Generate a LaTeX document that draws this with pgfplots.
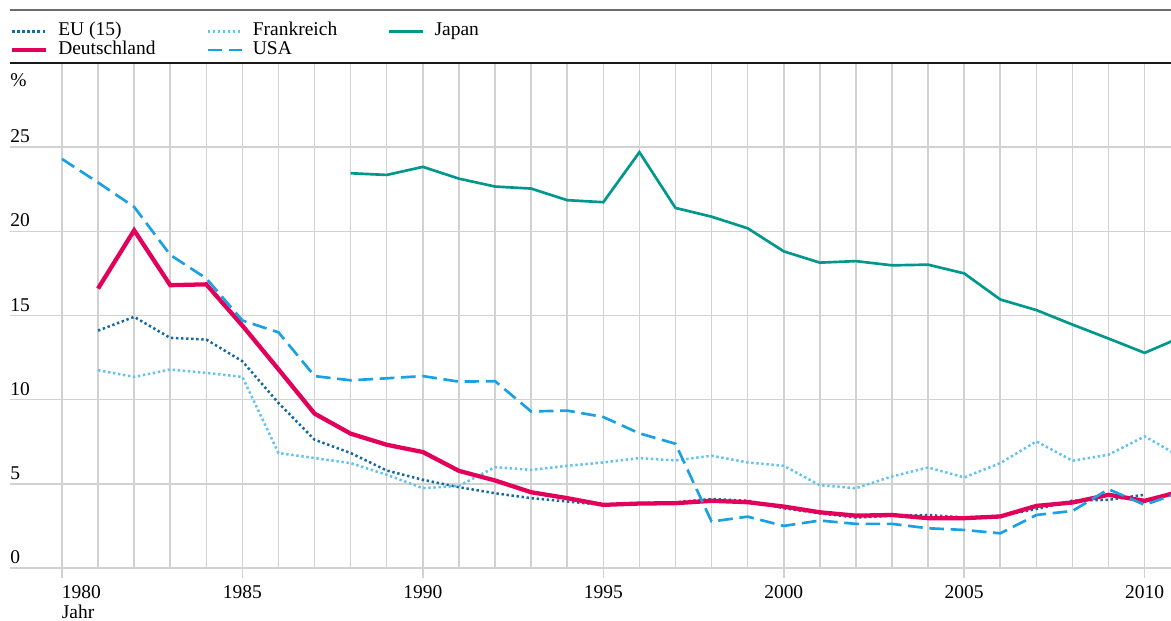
\documentclass[border=0pt]{standalone}
\usepackage{fontspec}
\setmainfont{Liberation Serif}
\usepackage{pgfplots}
\pgfplotsset{compat=1.18}
\definecolor{eucol}{HTML}{15699E}
\definecolor{frcol}{HTML}{62C3EE}
\definecolor{usacol}{HTML}{1BA1E2}
\definecolor{decol}{HTML}{E2005A}
\definecolor{jpcol}{HTML}{00978C}
\definecolor{gridcol}{HTML}{D2D2D2}
\newcommand{\fs}{\fontsize{14.6pt}{14.3pt}\selectfont}
\begin{document}
\begin{tikzpicture}
\useasboundingbox (0,0) rectangle (878.25pt,465.75pt);
\begin{axis}[
  at={(7.5pt,39.75pt)}, anchor=south west,
  scale only axis, width=870.75pt, height=378.75pt,
  xmin=1978.56, xmax=2010.73, ymin=0, ymax=30,
  axis line style={draw=none},
  xtick={1980,1985,...,2010},
  xticklabels={{\makebox[0pt][l]{1980}},1985,1990,1995,2000,2005,2010},
  minor xtick={1980,...,2010},
  xtick pos=left,
  tick align=outside,
  major tick length=7.5pt,
  minor tick length=0pt,
  xmajorgrids, xminorgrids, ymajorgrids,
  grid style={gridcol, line width=1.1pt},
  minor grid style={gridcol, line width=1.1pt},
  xtick style={gridcol, line width=1.1pt},
  ytick={0,5,...,25}, yticklabels={0,5,10,15,20,25},
  ytick style={draw=none},
  xticklabel style={font=\fs, anchor=north, inner sep=0pt, yshift=-5.25pt},
  yticklabel style={font=\fs, anchor=south west, inner sep=0pt, xshift=7.5pt, yshift=3pt},
  legend columns=3,
  legend cell align=left,
  legend image code/.code={\draw[#1] (0pt,0pt) -- (25.5pt,0pt);},
  legend style={draw=none, fill=none, font=\fs, at={(0,1)}, anchor=south west,
    inner sep=0pt, outer sep=0pt, yshift=2.75pt,
    nodes={inner sep=0pt, text height=10.5pt, text depth=3.5pt},
    /tikz/every odd column/.append style={column sep=7.5pt},
    /tikz/every even column/.append style={column sep=38pt}},
]
\addplot[eucol, line width=1.9pt, dash pattern=on 1.8pt off 2pt] coordinates {
(1981,14.1) (1982,14.92) (1983,13.67) (1984,13.57) (1985,12.28) (1986,9.8)
(1987,7.62) (1988,6.83) (1989,5.79) (1990,5.24) (1991,4.8) (1992,4.44)
(1993,4.15) (1994,3.95) (1995,3.75) (1996,3.85) (1997,3.9) (1998,4.1)
(1999,4.0) (2000,3.55) (2001,3.25) (2002,3.0) (2003,3.1) (2004,3.15)
(2005,3.0) (2006,3.1) (2007,3.5) (2008,4.0) (2009,4.05) (2010,4.35)};
\addlegendentry{EU (15)}
\addplot[frcol, line width=1.9pt, dash pattern=on 1.8pt off 2pt] coordinates {
(1981,11.75) (1982,11.35) (1983,11.79) (1984,11.59) (1985,11.35) (1986,6.83)
(1987,6.53) (1988,6.23) (1989,5.54) (1990,4.74) (1991,4.88) (1992,5.99)
(1993,5.83) (1994,6.07) (1995,6.27) (1996,6.53) (1997,6.39) (1998,6.67)
(1999,6.27) (2000,6.07) (2001,4.92) (2002,4.74) (2003,5.44) (2004,5.97)
(2005,5.38) (2006,6.23) (2007,7.52) (2008,6.37) (2009,6.73) (2010,7.82) (2011,6.6)};
\addlegendentry{Frankreich}
\addplot[jpcol, line width=2pt] coordinates {
(1988,23.45) (1989,23.35) (1990,23.83) (1991,23.13) (1992,22.66) (1993,22.54)
(1994,21.85) (1995,21.73) (1996,24.7) (1997,21.39) (1998,20.87) (1999,20.18)
(2000,18.81) (2001,18.14) (2002,18.23) (2003,17.98) (2004,18.02) (2005,17.5)
(2006,15.95) (2007,15.32) (2008,14.46) (2009,13.63) (2010,12.78) (2011,13.7)};
\addlegendentry{Japan}
\addplot[decol, line width=3.2pt] coordinates {
(1981,16.6) (1982,20.06) (1983,16.8) (1984,16.85) (1985,14.4) (1986,11.8)
(1987,9.17) (1988,7.98) (1989,7.32) (1990,6.89) (1991,5.77) (1992,5.2)
(1993,4.5) (1994,4.15) (1995,3.75) (1996,3.83) (1997,3.85) (1998,3.99)
(1999,3.91) (2000,3.65) (2001,3.31) (2002,3.11) (2003,3.15) (2004,2.96)
(2005,2.96) (2006,3.06) (2007,3.69) (2008,3.89) (2009,4.35) (2010,3.99) (2011,4.55)};
\addlegendentry{Deutschland}
\addplot[usacol, line width=2pt, dash pattern=on 11pt off 5pt] coordinates {
(1980,24.3) (1981,22.9) (1982,21.45) (1983,18.6) (1984,17.2) (1985,14.7)
(1986,14.0) (1987,11.4) (1988,11.15) (1989,11.27) (1990,11.4) (1991,11.07)
(1992,11.1) (1993,9.3) (1994,9.35) (1995,8.97) (1996,8.0) (1997,7.38)
(1998,2.76) (1999,3.05) (2000,2.5) (2001,2.82) (2002,2.62) (2003,2.62)
(2004,2.36) (2005,2.26) (2006,2.06) (2007,3.15) (2008,3.39) (2009,4.68)
(2010,3.75) (2011,4.5)};
\addlegendentry{USA}
\end{axis}
\draw[gray!85!black, line width=0.9pt] (7.5pt,458.25pt) -- (878.25pt,458.25pt);
\draw[black!90, line width=1.1pt] (7.5pt,418.5pt) -- (878.25pt,418.5pt);
\node[anchor=west, inner sep=0pt, font=\fs] at (7.5pt,405.75pt) {\%};
\node[anchor=base west, inner sep=0pt, font=\fs] at (46.2pt,1.5pt) {Jahr};
\end{tikzpicture}
\end{document}
